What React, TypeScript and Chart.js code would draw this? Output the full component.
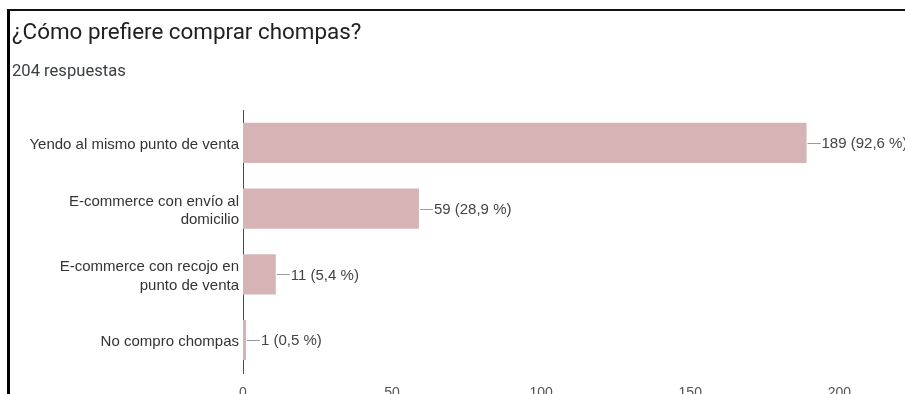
import React, { useEffect, useRef } from "react";
import { Chart, registerables } from "chart.js";

Chart.register(...registerables);

const TITLE = "¿Cómo prefiere comprar chompas?";
const SUBTITLE = "204 respuestas";
const categories: string[][] = [
  ["Yendo al mismo punto de venta"],
  ["E-commerce con envío al", "domicilio"],
  ["E-commerce con recojo en", "punto de venta"],
  ["No compro chompas"],
];
const counts = [189, 59, 11, 1];
const percents = ["92,6", "28,9", "5,4", "0,5"];
const tickValues = [0, 50, 100, 150, 200];
const X_MAX = 218;

const CANVAS_W = 905;
const CANVAS_H = 420;
const AXIS_LEFT = 243;
const AREA_TOP = 110;
const AREA_BOTTOM = 373;

const labelPlugin = {
  id: "valueLabels",
  afterDatasetsDraw(chart: any) {
    const ctx = chart.ctx;
    const meta = chart.getDatasetMeta(0);
    ctx.save();
    meta.data.forEach((bar: any, i: number) => {
      const x0 = bar.x;
      const y = bar.y;
      ctx.strokeStyle = "#9a9a9a";
      ctx.lineWidth = 1;
      ctx.beginPath();
      ctx.moveTo(x0 + 1, Math.round(y) + 0.5);
      ctx.lineTo(x0 + 14, Math.round(y) + 0.5);
      ctx.stroke();
      ctx.fillStyle = "#444444";
      ctx.font = "15px 'Liberation Sans', Arial, sans-serif";
      ctx.textAlign = "left";
      ctx.textBaseline = "middle";
      ctx.fillText(`${counts[i]} (${percents[i]} %)`, x0 + 15, y + 1);
    });
    ctx.restore();
  },
};

export default function App() {
  const ref = useRef<HTMLCanvasElement | null>(null);

  useEffect(() => {
    if (!ref.current) return;
    const chart = new Chart(ref.current, {
      type: "bar",
      data: {
        labels: categories,
        datasets: [
          {
            data: counts,
            backgroundColor: "rgb(214, 180, 182)",
            borderWidth: 0,
            barPercentage: 0.61,
            categoryPercentage: 1,
          },
        ],
      },
      options: {
        indexAxis: "y",
        responsive: false,
        animation: false,
        layout: { padding: { top: AREA_TOP, left: 0, right: 5, bottom: 0 } },
        plugins: {
          legend: { display: false },
          tooltip: { enabled: false },
          title: { display: false },
        },
        scales: {
          x: {
            min: 0,
            max: X_MAX,
            grid: { display: false, drawTicks: false },
            border: { display: false },
            afterFit: (scale: any) => {
              scale.height = CANVAS_H - AREA_BOTTOM;
            },
            ticks: {
              stepSize: 50,
              padding: 12,
              color: "#555555",
              autoSkip: false,
              maxRotation: 0,
              font: { family: "'Liberation Sans', Arial, sans-serif", size: 14 },
              callback: (v: any) => (tickValues.includes(Number(v)) ? String(v) : ""),
            },
          },
          y: {
            grid: { display: false, drawTicks: false },
            border: { display: true, color: "#4a4a4a", width: 1 },
            afterFit: (scale: any) => {
              scale.width = AXIS_LEFT;
            },
            ticks: {
              padding: 4,
              labelOffset: 2,
              color: "#333333",
              font: {
                family: "'Liberation Sans', Arial, sans-serif",
                size: 15,
                lineHeight: 1.22,
              },
            },
          },
        },
      },
      plugins: [labelPlugin],
    } as any);
    return () => chart.destroy();
  }, []);

  return (
    <div
      style={{
        position: "absolute",
        left: 0,
        top: 0,
        width: 905,
        height: 394,
        overflow: "hidden",
        background: "#fff",
      }}
    >
      <canvas
        ref={ref}
        width={CANVAS_W}
        height={CANVAS_H}
        style={{ position: "absolute", left: 0, top: 0, width: CANVAS_W, height: CANVAS_H }}
      />
      <div
        style={{
          position: "absolute",
          left: 7,
          top: 9,
          width: 920,
          height: 420,
          borderLeft: "3px solid #000",
          borderTop: "2px solid #111",
          boxSizing: "border-box",
          pointerEvents: "none",
        }}
      />
      <div
        style={{
          position: "absolute",
          left: 12,
          top: 18,
          fontFamily: "Roboto, 'Liberation Sans', sans-serif",
          fontSize: 22.4,
          lineHeight: "27px",
          color: "#202124",
          whiteSpace: "nowrap",
        }}
      >
        {TITLE}
      </div>
      <div
        style={{
          position: "absolute",
          left: 12,
          top: 61,
          fontFamily: "Roboto, 'Liberation Sans', sans-serif",
          fontSize: 16.6,
          lineHeight: "20px",
          color: "#3c4043",
          whiteSpace: "nowrap",
        }}
      >
        {SUBTITLE}
      </div>
    </div>
  );
}
